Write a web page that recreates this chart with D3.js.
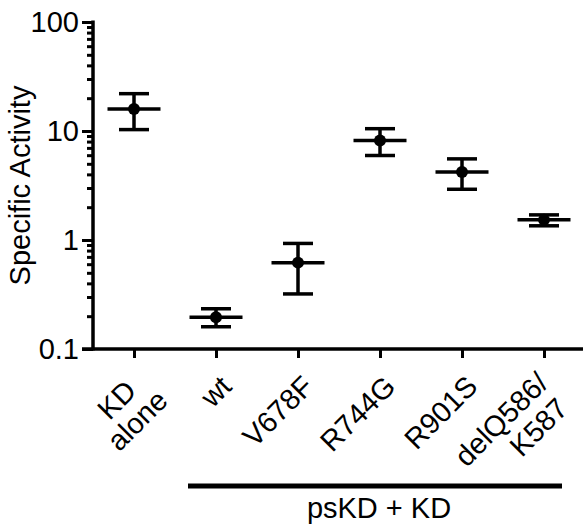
<!DOCTYPE html>
<html>
<head>
<meta charset="utf-8">
<script src="https://cdn.jsdelivr.net/npm/d3@7"></script>
<style>
  body { margin: 0; background: #fff; }
  text { font-family: "Liberation Sans", Arial, sans-serif; fill: #000; }
</style>
</head>
<body>
<div id="chart"></div>
<script>
// values
const groups = ['KD alone', 'wt', 'V678F', 'R744G', 'R901S', 'delQ586/K587'];
const groupLines = [['KD', 'alone'], ['wt'], ['V678F'], ['R744G'], ['R901S'], ['delQ586/', 'K587']];
const means = [15.9, 0.196, 0.62, 8.2, 4.2, 1.53];
const upper = [22, 0.234, 0.93, 10.5, 5.55, 1.70];
const lower = [10.3, 0.16, 0.32, 5.96, 2.92, 1.35];
const yTicks = [0.1, 1, 10, 100];
const yTickLabels = ['0.1', '1', '10', '100'];
const bracketGroups = ['wt', 'delQ586/K587'];
const bracketLabel = 'psKD + KD';

const width = 583, height = 525;
const plotLeft = 93, plotTop = 22, plotBottom = 349;
const fontSize = 29;

const svg = d3.select('#chart').append('svg')
    .attr('width', width)
    .attr('height', height);

const scaleX = d3.scalePoint().domain(groups).range([134, 544]);
const scaleY = d3.scaleLog().domain([0.1, 100]).range([plotBottom, plotTop]);

// minor ticks 2..9 per decade
const minorTicks = [];
[0.1, 1, 10].forEach(d => {
    for (let k = 2; k <= 9; k++) minorTicks.push(+(d * k).toPrecision(3));
});

// y axis
const yMinor = svg.append('g')
    .attr('transform', 'translate(' + plotLeft + ',0)')
    .call(d3.axisLeft(scaleY).tickValues(minorTicks).tickSize(6).tickFormat(''));
yMinor.select('.domain').remove();

const yAxisGroup = svg.append('g')
    .attr('transform', 'translate(' + plotLeft + ',0)')
    .call(d3.axisLeft(scaleY).tickValues(yTicks).tickSize(11).tickPadding(3)
        .tickFormat((d, i) => yTickLabels[i]));
yAxisGroup.select('.domain').remove();
yAxisGroup.selectAll('text')
    .style('font-size', fontSize + 'px')
    .style('font-family', '"Liberation Sans", Arial, sans-serif');

svg.selectAll('.tick line').attr('stroke', '#000').attr('stroke-width', 3);

svg.append('line')
    .attr('x1', plotLeft).attr('x2', plotLeft)
    .attr('y1', scaleY(100) - 1.5).attr('y2', scaleY(0.1) + 1.5)
    .attr('stroke', '#000').attr('stroke-width', 3.5);

// x axis
const xAxisGroup = svg.append('g')
    .attr('transform', 'translate(0,' + plotBottom + ')')
    .call(d3.axisBottom(scaleX).tickSize(9).tickFormat(''));
xAxisGroup.select('.domain').remove();
xAxisGroup.selectAll('.tick line').attr('stroke', '#000').attr('stroke-width', 3);

svg.append('line')
    .attr('x1', plotLeft - 11).attr('x2', width)
    .attr('y1', plotBottom).attr('y2', plotBottom)
    .attr('stroke', '#000').attr('stroke-width', 3.5);

// rotated category labels
// "KD / alone" is centred, "delQ586/ / K587" is flush right, as in the figure
groupLines.forEach((lines, i) => {
    const multi = lines.length > 1;
    const flushRight = multi && i > 0;
    const lineH = flushRight ? fontSize * 1.1 : fontSize * 1.0;
    const ax = scaleX(groups[i]) + 10 + (multi && !flushRight ? 8 : 0);
    const ay = plotBottom + 32 + (multi ? 4 : 0) + (flushRight ? 4 : 0);
    const g = svg.append('g')
        .attr('transform', 'translate(' + ax + ',' + ay + ') rotate(-45)');
    const texts = lines.map((s, j) => g.append('text')
        .style('font-size', fontSize + 'px')
        .attr('y', (j - (lines.length - 1) / 2) * lineH)
        .attr('dy', '0.35em')
        .text(s));
    const maxW = d3.max(texts, t => t.node().getComputedTextLength());
    if (flushRight || !multi) {
        texts.forEach((t, j) => t.attr('text-anchor', 'end').attr('x', j > 0 ? -4 : 0));
    } else {
        texts.forEach(t => t.attr('text-anchor', 'middle').attr('x', -maxW / 2));
    }
});

// error bars
const bars = svg.append('g');
groups.forEach((name, i) => {
    const cx = scaleX(name);
    bars.append('line')
        .attr('x1', cx).attr('x2', cx)
        .attr('y1', scaleY(upper[i])).attr('y2', scaleY(lower[i]))
        .attr('stroke', '#000').attr('stroke-width', 3.5);
    [upper[i], lower[i]].forEach(v => {
        bars.append('line')
            .attr('x1', cx - 15).attr('x2', cx + 15)
            .attr('y1', scaleY(v)).attr('y2', scaleY(v))
            .attr('stroke', '#000').attr('stroke-width', 3.5);
    });
    bars.append('line')
        .attr('x1', cx - 26.5).attr('x2', cx + 26.5)
        .attr('y1', scaleY(means[i])).attr('y2', scaleY(means[i]))
        .attr('stroke', '#000').attr('stroke-width', 3.5);
    bars.append('circle')
        .attr('cx', cx).attr('cy', scaleY(means[i]))
        .attr('r', 6)
        .attr('fill', '#000');
});

// y axis title
svg.append('text')
    .attr('transform', 'translate(30,' + ((plotTop + plotBottom) / 2) + ') rotate(-90)')
    .attr('text-anchor', 'middle')
    .style('font-size', fontSize + 'px')
    .text('Specific Activity');

// bracket under the psKD + KD groups
const bx1 = scaleX(bracketGroups[0]) - 28;
const bx2 = scaleX(bracketGroups[1]) + 18;
svg.append('line')
    .attr('x1', bx1).attr('x2', bx2)
    .attr('y1', 486).attr('y2', 486)
    .attr('stroke', '#000').attr('stroke-width', 5);

svg.append('text')
    .attr('x', (bx1 + bx2) / 2 + 4)
    .attr('y', 518)
    .attr('text-anchor', 'middle')
    .style('font-size', fontSize + 'px')
    .text(bracketLabel);
</script>
</body>
</html>
